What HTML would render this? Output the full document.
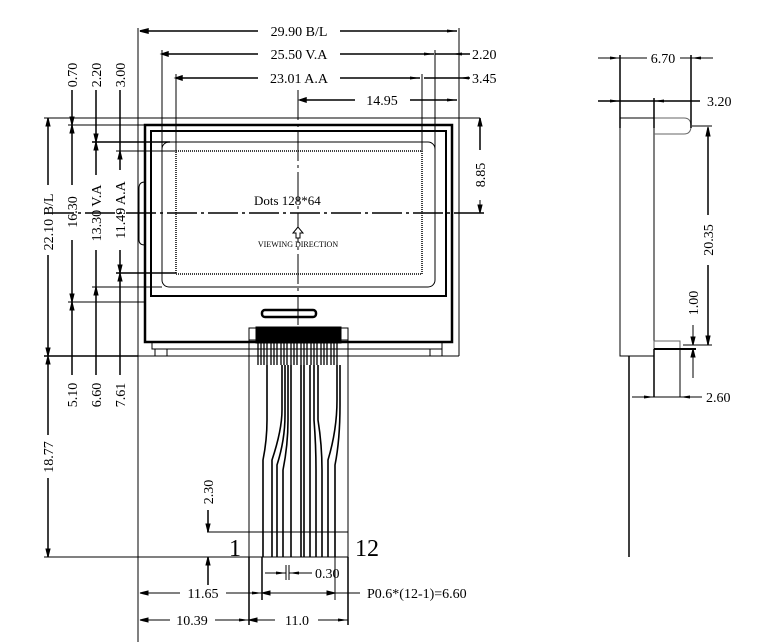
<!DOCTYPE html>
<html><head><meta charset="utf-8"><style>
html,body{margin:0;padding:0;background:#fff;}
svg{display:block}
text{font-family:"Liberation Serif",serif;fill:#000;}
</style></head><body>
<svg width="771" height="642" viewBox="0 0 771 642" xmlns="http://www.w3.org/2000/svg" font-size="14">
<defs>
<marker id="a" markerWidth="10" markerHeight="6" refX="10" refY="3" orient="auto" markerUnits="userSpaceOnUse"><path d="M0,1.5 L10,3 L0,4.5z" fill="#000"/></marker>
</defs>
<g stroke="#000" fill="none" stroke-width="1">
<line x1="138" y1="28" x2="138" y2="642"/>
<line x1="459" y1="28" x2="459" y2="356"/>
<line x1="44" y1="118" x2="480" y2="118"/>
<line x1="44" y1="356" x2="459" y2="356"/>
<rect x="145" y="125" width="307" height="217" stroke-width="2.5"/>
<rect x="151" y="131" width="295" height="165" stroke-width="2"/>
<rect x="162" y="142" width="273" height="145" rx="7"/>
<rect x="176" y="151" width="246" height="123" stroke-dasharray="1,1" stroke-width="1.5"/>
<path d="M152,342 V349 H442 V342"/>
<path d="M155,349 V356 H167 V349 M430,349 V356 H442 V349"/>
<path d="M145,182 Q139,182 139,188 V240 Q139,245 145,245"/>
<line x1="298" y1="90" x2="298" y2="340" stroke-dasharray="30,4,3,4"/>
<line x1="44" y1="213" x2="486" y2="213" stroke-dasharray="30,4,3,4" stroke-width="1.5"/>
<rect x="262" y="310" width="54" height="7" rx="3" stroke-width="2.5"/>
<rect x="249" y="328" width="99" height="12"/>
<rect x="256" y="327" width="85" height="16" fill="#000"/>
<line x1="249" y1="340" x2="249" y2="557"/>
<line x1="348" y1="340" x2="348" y2="557"/>
<line x1="207" y1="532" x2="348" y2="532"/>
<line x1="44" y1="557" x2="348" y2="557"/>
<path d="M258,343 V365 M261,343 V365 M264,343 V365 M267,343 V365 M271,343 V365 M274,343 V365 M277,343 V365 M281,343 V365 M284,343 V365 M287,343 V365 M291,343 V365 M294,343 V365 M297,343 V365 M301,343 V365 M304,343 V365 M307,343 V365 M311,343 V365 M314,343 V365 M317,343 V365 M321,343 V365 M324,343 V365 M327,343 V365 M331,343 V365 M334,343 V365 M337,343 V365" stroke-width="1.3"/>
<g stroke-width="1.6">
<path d="M267,365 V420 Q267,440 263,460 V557"/>
<path d="M282,365 V410 Q282,430 272,460 V557"/>
<path d="M285,365 V415 Q285,440 277,465 V557"/>
<path d="M288,365 V420 Q288,445 283,470 V557"/>
<path d="M291,365 V470 V557"/>
<path d="M301,365 V557"/>
<path d="M304,365 V557"/>
<path d="M310,365 V420 Q310,440 310,470 V557"/>
<path d="M314,365 V420 Q316,445 316,470 V557"/>
<path d="M318,365 V420 Q322,445 322,470 V557"/>
<path d="M337,365 V400 Q337,430 328,460 V557"/>
<path d="M340,365 V405 Q340,440 335,465 V557"/>
</g>
<g stroke-width="1.5">
<line x1="140" y1="31" x2="258" y2="31"/>
<path d="M148,29 L140,31 L148,33z" fill="#000"/>
<line x1="340" y1="31" x2="457" y2="31" marker-end="url(#a)"/>
<line x1="162" y1="54" x2="258" y2="54"/>
<path d="M168,52 L162,54 L168,56z" fill="#000"/>
<line x1="340" y1="54" x2="434" y2="54" marker-end="url(#a)"/>
<line x1="176" y1="78" x2="258" y2="78"/>
<path d="M182,76 L176,78 L182,80z" fill="#000"/>
<line x1="340" y1="78" x2="420" y2="78" marker-end="url(#a)"/>
<line x1="300" y1="100" x2="355" y2="100"/>
<path d="M306,98 L300,100 L306,102z" fill="#000"/>
<line x1="410" y1="100" x2="457" y2="100" marker-end="url(#a)"/>
<line x1="470" y1="54" x2="452" y2="54" marker-end="url(#a)"/>
<line x1="452" y1="54" x2="435" y2="54"/>
<line x1="470" y1="78" x2="459" y2="78" marker-end="url(#a)"/>
<line x1="424" y1="78" x2="459" y2="78"/>
</g>
<line x1="162" y1="50" x2="162" y2="150"/>
<line x1="435" y1="50" x2="435" y2="150"/>
<line x1="176" y1="74" x2="176" y2="151"/>
<line x1="422" y1="74" x2="422" y2="151"/>
<line x1="480" y1="118" x2="480" y2="150" stroke-width="1.5"/>
<line x1="480" y1="200" x2="480" y2="213"/>
<path d="M478,126 L480,118 L482,126z M478,205 L480,213 L482,205z" fill="#000"/>
<line x1="68" y1="125" x2="145" y2="125"/>
<line x1="92" y1="142" x2="170" y2="142" stroke-width="1.5"/>
<line x1="116" y1="151" x2="176" y2="151"/>
<line x1="92" y1="287" x2="162" y2="287"/>
<line x1="116" y1="273" x2="176" y2="273" stroke-width="1.5"/>
<line x1="68" y1="302" x2="145" y2="302"/>
<line x1="44" y1="356" x2="138" y2="356" stroke-width="1.5"/>
<g stroke-width="1.5">
<line x1="48" y1="118" x2="48" y2="185"/><line x1="48" y1="255" x2="48" y2="356"/>
<line x1="72" y1="90" x2="72" y2="185"/><line x1="72" y1="240" x2="72" y2="375"/>
<line x1="96" y1="90" x2="96" y2="175"/><line x1="96" y1="250" x2="96" y2="375"/>
<line x1="120" y1="90" x2="120" y2="170"/><line x1="120" y1="250" x2="120" y2="375"/>
<line x1="48" y1="360" x2="48" y2="435"/><line x1="48" y1="478" x2="48" y2="557"/>
<line x1="208" y1="510" x2="208" y2="532"/><line x1="208" y1="557" x2="208" y2="585"/>
</g>
<path d="M46,126 L48,118 L50,126z M46,348 L48,356 L50,348z M70,117 L72,125 L74,117z M70,133 L72,125 L74,133z M70,294 L72,302 L74,294z M70,310 L72,302 L74,310z M94,134 L96,142 L98,134z M94,150 L96,142 L98,150z M94,295 L96,287 L98,295z M118,159 L120,151 L122,159z M118,265 L120,273 L122,265z M118,281 L120,273 L122,281z M46,364 L48,356 L50,364z M46,549 L48,557 L50,549z M206,524 L208,532 L210,524z M206,565 L208,557 L210,565z" fill="#000"/>
<line x1="262" y1="557" x2="262" y2="600" stroke-width="1.5"/>
<line x1="335" y1="557" x2="335" y2="600"/>
<line x1="249" y1="557" x2="249" y2="625" stroke-width="1.5"/>
<line x1="348" y1="557" x2="348" y2="625" stroke-width="1.5"/>
<line x1="286" y1="565" x2="286" y2="580"/><line x1="289" y1="565" x2="289" y2="580"/>
<line x1="265" y1="573" x2="286" y2="573" marker-end="url(#a)"/>
<line x1="312" y1="573" x2="289" y2="573" marker-end="url(#a)"/>
<line x1="140" y1="593" x2="180" y2="593"/><path d="M148,591 L140,593 L148,595z" fill="#000"/>
<line x1="226" y1="593" x2="262" y2="593" marker-end="url(#a)"/>
<line x1="264" y1="593" x2="335" y2="593"/><path d="M270,591 L262,593 L270,595z M327,591 L335,593 L327,595z" fill="#000"/>
<line x1="335" y1="593" x2="360" y2="593"/>
<line x1="140" y1="620" x2="170" y2="620"/><path d="M148,618 L140,620 L148,622z" fill="#000"/>
<line x1="215" y1="620" x2="249" y2="620" marker-end="url(#a)"/>
<line x1="249" y1="620" x2="275" y2="620"/><path d="M257,618 L249,620 L257,622z" fill="#000"/>
<line x1="318" y1="620" x2="348" y2="620" marker-end="url(#a)"/>
<rect x="620" y="118" width="34" height="238"/>
<path d="M654,118 H684 Q691,118 691,126 Q691,134 684,134 H654" stroke="#666"/>
<rect x="654" y="341" width="26" height="8" stroke="#666"/>
<line x1="654" y1="349" x2="696" y2="349" stroke-width="2"/>
<line x1="654" y1="349" x2="654" y2="397" stroke-width="1.5"/>
<line x1="680" y1="349" x2="680" y2="397"/>
<line x1="629" y1="356" x2="629" y2="557" stroke-width="1.5"/>
<line x1="620" y1="55" x2="620" y2="128" stroke-width="1.5"/>
<line x1="691" y1="55" x2="691" y2="128" stroke-width="1.5"/>
<line x1="654" y1="98" x2="654" y2="128" stroke-width="1.5"/>
<line x1="598" y1="58" x2="620" y2="58" marker-end="url(#a)"/>
<line x1="713" y1="58" x2="691" y2="58" marker-end="url(#a)"/>
<line x1="620" y1="58" x2="647" y2="58"/><line x1="680" y1="58" x2="691" y2="58"/>
<line x1="598" y1="101" x2="620" y2="101" marker-end="url(#a)" stroke-width="1.5"/>
<line x1="620" y1="101" x2="654" y2="101" stroke-width="1.5"/>
<line x1="700" y1="101" x2="654" y2="101" marker-end="url(#a)" stroke-width="1.5"/>
<line x1="692" y1="126" x2="712" y2="126"/>
<line x1="683" y1="345" x2="712" y2="345"/>
<line x1="708" y1="128" x2="708" y2="215" stroke-width="1.5"/>
<line x1="708" y1="265" x2="708" y2="345" stroke-width="1.5"/>
<path d="M706,136 L708,127 L710,136z M706,336 L708,345 L710,336z" fill="#000"/>
<line x1="693" y1="325" x2="693" y2="345"/><line x1="693" y1="357" x2="693" y2="378"/>
<path d="M691,337 L693,345 L695,337z M691,357 L693,349 L695,357z" fill="#000"/>
<line x1="632" y1="397" x2="654" y2="397" marker-end="url(#a)"/>
<line x1="702" y1="397" x2="680" y2="397" marker-end="url(#a)"/>
<line x1="654" y1="397" x2="680" y2="397"/>
</g>
<path d="M298,227 L293,233 H296 V238 H300 V233 H303 Z" fill="#fff" stroke="#000"/>
<text x="299" y="36" text-anchor="middle">29.90 B/L</text>
<text x="299" y="59" text-anchor="middle">25.50 V.A</text>
<text x="299" y="83" text-anchor="middle">23.01 A.A</text>
<text x="382" y="105" text-anchor="middle">14.95</text>
<text x="472" y="59">2.20</text>
<text x="472" y="83">3.45</text>
<text x="254" y="205" style="font-size:13px">Dots 128*64</text>
<text x="298" y="247" text-anchor="middle" style="font-size:8px">VIEWING DIRECTION</text>
<text x="663" y="63" text-anchor="middle">6.70</text>
<text x="707" y="106">3.20</text>
<text x="706" y="402">2.60</text>
<text x="367" y="598">P0.6*(12-1)=6.60</text>
<text x="315" y="578">0.30</text>
<text x="203" y="598" text-anchor="middle">11.65</text>
<text x="192" y="625" text-anchor="middle">10.39</text>
<text x="297" y="625" text-anchor="middle">11.0</text>
<text x="229" y="556" style="font-size:24px">1</text>
<text x="355" y="556" style="font-size:24px">12</text>
<text transform="translate(53,222) rotate(-90)" text-anchor="middle">22.10 B/L</text>
<text transform="translate(77,212) rotate(-90)" text-anchor="middle">16.30</text>
<text transform="translate(101,213) rotate(-90)" text-anchor="middle">13.30 V.A</text>
<text transform="translate(125,210) rotate(-90)" text-anchor="middle">11.49 A.A</text>
<text transform="translate(77,75) rotate(-90)" text-anchor="middle">0.70</text>
<text transform="translate(101,75) rotate(-90)" text-anchor="middle">2.20</text>
<text transform="translate(125,75) rotate(-90)" text-anchor="middle">3.00</text>
<text transform="translate(77,395) rotate(-90)" text-anchor="middle">5.10</text>
<text transform="translate(101,395) rotate(-90)" text-anchor="middle">6.60</text>
<text transform="translate(125,395) rotate(-90)" text-anchor="middle">7.61</text>
<text transform="translate(53,457) rotate(-90)" text-anchor="middle">18.77</text>
<text transform="translate(213,492) rotate(-90)" text-anchor="middle">2.30</text>
<text transform="translate(485,175) rotate(-90)" text-anchor="middle">8.85</text>
<text transform="translate(713,240) rotate(-90)" text-anchor="middle">20.35</text>
<text transform="translate(698,303) rotate(-90)" text-anchor="middle">1.00</text>
</svg>
</body></html>
